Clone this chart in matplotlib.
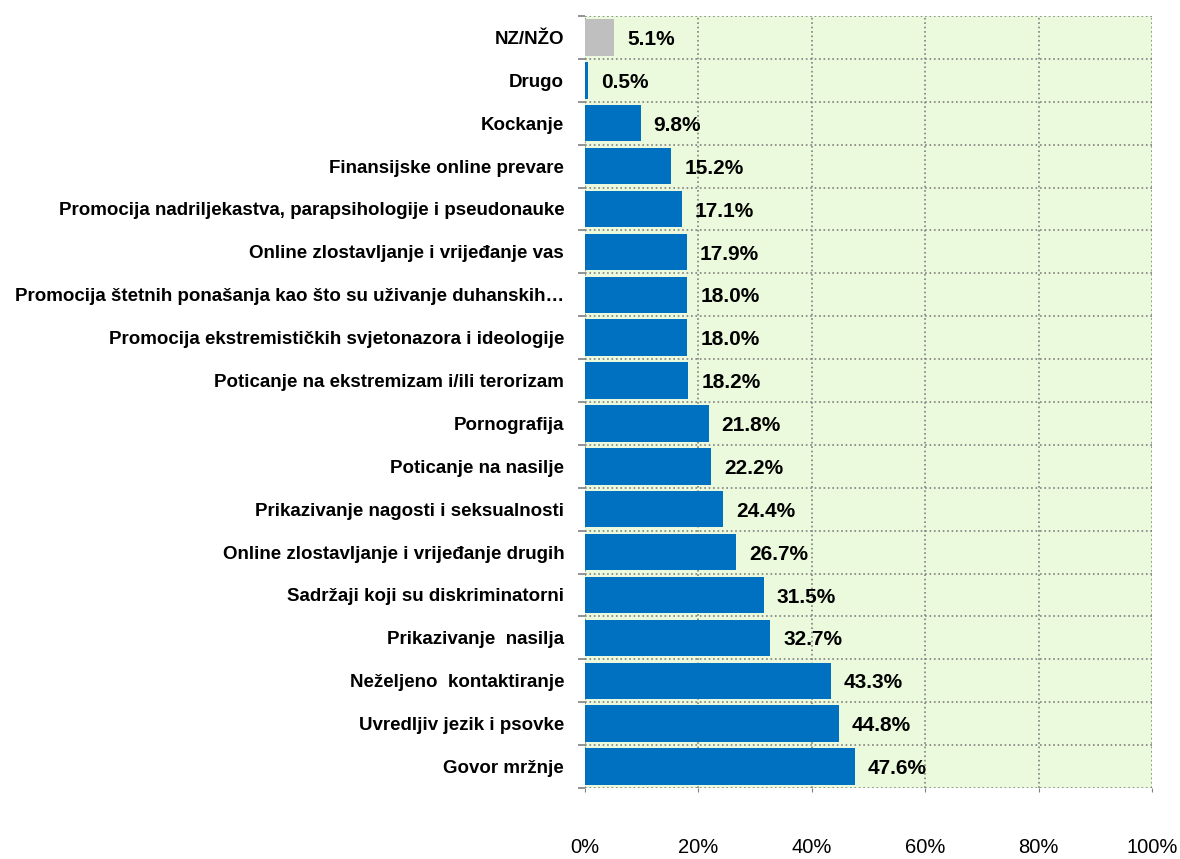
import matplotlib.pyplot as plt
from matplotlib.ticker import FixedLocator

categories = [
    "NZ/NŽO",
    "Drugo",
    "Kockanje",
    "Finansijske online prevare",
    "Promocija nadriljekastva, parapsihologije i pseudonauke",
    "Online zlostavljanje i vrijeđanje vas",
    "Promocija štetnih ponašanja kao što su uživanje duhanskih…",
    "Promocija ekstremističkih svjetonazora i ideologije",
    "Poticanje na ekstremizam i/ili terorizam",
    "Pornografija",
    "Poticanje na nasilje",
    "Prikazivanje nagosti i seksualnosti",
    "Online zlostavljanje i vrijeđanje drugih",
    "Sadržaji koji su diskriminatorni",
    "Prikazivanje  nasilja",
    "Neželjeno  kontaktiranje",
    "Uvredljiv jezik i psovke",
    "Govor mržnje",
]
values = [5.1, 0.5, 9.8, 15.2, 17.1, 17.9, 18.0, 18.0, 18.2, 21.8,
          22.2, 24.4, 26.7, 31.5, 32.7, 43.3, 44.8, 47.6]
x_ticks = [0, 20, 40, 60, 80, 100]

plt.rcParams['font.family'] = ['Liberation Sans Narrow', 'Liberation Sans', 'DejaVu Sans']

fig = plt.figure(figsize=(11.8, 8.59), dpi=100)
ax = fig.add_axes([0.4958, 0.0827, 0.4805, 0.8987])
ax.set_facecolor('#ebfadc')

pos = list(range(len(categories)))
colors = ['#bfbfbf'] + ['#0070c0'] * (len(categories) - 1)
ax.barh(pos, values, height=0.85, color=colors, zorder=3)

for p, v in zip(pos, values):
    ax.text(v + 2.3, p + 0.05, f"{v:.1f}%", va='center', ha='left',
            fontsize=15, fontweight='bold', zorder=4)

ax.set_xlim(0, 100)
ax.set_ylim(len(categories) - 0.5, -0.5)

ax.set_yticks(pos)
ax.set_yticklabels(categories, fontsize=13.5, fontweight='bold')
ax.yaxis.set_minor_locator(FixedLocator([p - 0.5 for p in pos] + [len(pos) - 0.5]))
ax.tick_params(axis='y', which='major', length=0, pad=15)
ax.tick_params(axis='y', which='minor', length=5, color='#808080', width=1.2)

ax.set_xticks(x_ticks)
ax.set_xticklabels([f"{t}%" for t in x_ticks], fontsize=14.5)
ax.tick_params(axis='x', length=3, color='#808080', pad=33)

ax.grid(True, axis='x', which='major', linestyle=':', color='#808080', linewidth=1.2, zorder=1)
ax.grid(True, axis='y', which='minor', linestyle=':', color='#808080', linewidth=1.2, zorder=1)
for s in ax.spines.values():
    s.set_visible(False)

fig.savefig('out.png', dpi=100)
